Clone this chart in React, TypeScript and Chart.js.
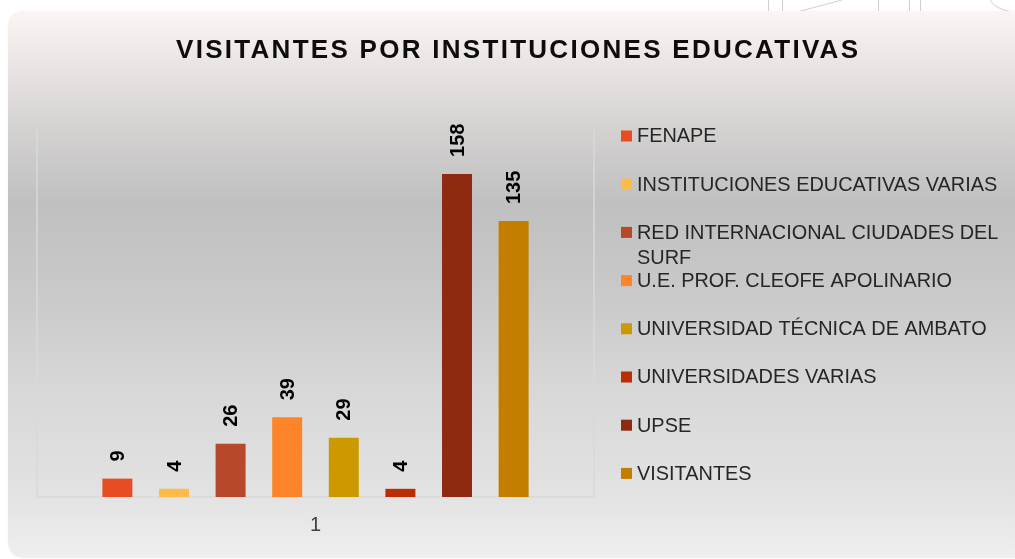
import React, { useEffect, useRef } from "react";
import { Chart, registerables } from "chart.js";

Chart.register(...registerables);

const categories: string[] = ["1"];
const seriesNames: string[] = [
  "FENAPE",
  "INSTITUCIONES EDUCATIVAS VARIAS",
  "RED INTERNACIONAL CIUDADES DEL SURF",
  "U.E. PROF. CLEOFE APOLINARIO",
  "UNIVERSIDAD TÉCNICA DE AMBATO",
  "UNIVERSIDADES VARIAS",
  "UPSE",
  "VISITANTES",
];
const seriesValues: number[] = [9, 4, 26, 39, 29, 4, 158, 135];
const seriesColors: string[] = [
  "#E84C22",
  "#FFBB48",
  "#B7492A",
  "#FE8429",
  "#CC9A00",
  "#BA2D05",
  "#8E2A10",
  "#C57D00",
];
const titleText = "VISITANTES POR INSTITUCIONES EDUCATIVAS";
const yMin = 0;
const yMax = 180;

const W = 1015;
const H = 559;

function roundRectPath(ctx: CanvasRenderingContext2D, x: number, y: number, w: number, h: number, r: number) {
  ctx.beginPath();
  ctx.moveTo(x + r, y);
  ctx.lineTo(x + w - r, y);
  ctx.quadraticCurveTo(x + w, y, x + w, y + r);
  ctx.lineTo(x + w, y + h - r);
  ctx.quadraticCurveTo(x + w, y + h, x + w - r, y + h);
  ctx.lineTo(x + r, y + h);
  ctx.quadraticCurveTo(x, y + h, x, y + h - r);
  ctx.lineTo(x, y + r);
  ctx.quadraticCurveTo(x, y, x + r, y);
  ctx.closePath();
}

function wrapText(ctx: CanvasRenderingContext2D, text: string, maxW: number): string[] {
  const words = text.split(" ");
  const lines: string[] = [];
  let cur = "";
  for (const w of words) {
    const test = cur ? cur + " " + w : w;
    if (ctx.measureText(test).width > maxW && cur) {
      lines.push(cur);
      cur = w;
    } else {
      cur = test;
    }
  }
  if (cur) lines.push(cur);
  return lines;
}

const decorPlugin = {
  id: "decor",
  beforeDraw(chart: any) {
    const ctx: CanvasRenderingContext2D = chart.ctx;
    ctx.save();
    ctx.fillStyle = "#ffffff";
    ctx.fillRect(0, 0, W, H);
    ctx.strokeStyle = "#cfcfcf";
    ctx.lineWidth = 1;
    ctx.beginPath();
    [768, 782, 878, 909, 920].forEach((x) => {
      ctx.moveTo(x + 0.5, 0);
      ctx.lineTo(x + 0.5, 12);
    });
    ctx.moveTo(797, 12);
    ctx.lineTo(842, 0);
    ctx.moveTo(990, 0);
    ctx.quadraticCurveTo(995, 9, 1012, 12);
    ctx.stroke();

    const g = ctx.createLinearGradient(0, 11, 0, 558);
    g.addColorStop(0, "#fbf5f3");
    g.addColorStop(0.12, "#e6e1e0");
    g.addColorStop(0.2, "#d6d4d3");
    g.addColorStop(0.35, "#c0c0c0");
    g.addColorStop(0.5, "#c8c8c8");
    g.addColorStop(0.7, "#d8d8d8");
    g.addColorStop(0.88, "#e2e2e2");
    g.addColorStop(1, "#efefef");
    ctx.shadowColor = "rgba(0,0,0,0.06)";
    ctx.shadowBlur = 2;
    roundRectPath(ctx, 8, 11, W + 30, 547, 18);
    ctx.fillStyle = g;
    ctx.fill();
    ctx.restore();
  },
  beforeDatasetsDraw(chart: any) {
    const ctx: CanvasRenderingContext2D = chart.ctx;
    const a = chart.chartArea;
    ctx.save();
    ctx.strokeStyle = "#d9d9d9";
    ctx.lineWidth = 1.5;
    ctx.beginPath();
    ctx.moveTo(a.left, a.top);
    ctx.lineTo(a.left, a.bottom);
    ctx.lineTo(a.right, a.bottom);
    ctx.lineTo(a.right, a.top);
    ctx.stroke();
    ctx.restore();
  },
  afterDatasetsDraw(chart: any) {
    const ctx: CanvasRenderingContext2D = chart.ctx;
    ctx.save();
    // data labels
    ctx.fillStyle = "#000000";
    ctx.font = "bold 20px 'Liberation Sans', Arial, sans-serif";
    ctx.textAlign = "left";
    ctx.textBaseline = "middle";
    chart.data.datasets.forEach((ds: any, i: number) => {
      const meta = chart.getDatasetMeta(i);
      meta.data.forEach((bar: any, j: number) => {
        const v = ds.data[j];
        ctx.save();
        ctx.translate(bar.x + 1, bar.y - 17);
        ctx.rotate(-Math.PI / 2);
        ctx.fillText(String(v), 0, 0);
        ctx.restore();
      });
    });

    // category label
    const xs = chart.scales.x;
    ctx.font = "20px 'Liberation Sans', Arial, sans-serif";
    ctx.fillStyle = "#404040";
    ctx.textAlign = "center";
    ctx.textBaseline = "middle";
    categories.forEach((c, i) => {
      ctx.fillText(c, xs.getPixelForValue(i), 525);
    });

    // title
    ctx.font = "bold 26px 'Liberation Sans Narrow', 'Liberation Sans', Arial, sans-serif";
    ctx.fillStyle = "#0d0d0d";
    const n = titleText.length;
    (ctx as any).letterSpacing = "0px";
    const base = ctx.measureText(titleText).width;
    const spacing = (682 - base) / (n - 1);
    (ctx as any).letterSpacing = spacing + "px";
    ctx.textAlign = "left";
    ctx.textBaseline = "alphabetic";
    ctx.fillText(titleText, 176, 58);
    (ctx as any).letterSpacing = "0px";

    // legend
    let fs = 20;
    ctx.font = `${fs}px 'Liberation Sans', Arial, sans-serif`;
    const mw = ctx.measureText(seriesNames[1]).width;
    fs = Math.round(((20 * 361) / mw) * 10) / 10;
    ctx.font = `${fs}px 'Liberation Sans', Arial, sans-serif`;
    ctx.textAlign = "left";
    ctx.textBaseline = "middle";
    chart.data.datasets.forEach((ds: any, i: number) => {
      const cy = 136 + i * 48.2;
      ctx.fillStyle = ds.backgroundColor;
      ctx.fillRect(621, cy - 5.5, 11, 11);
      ctx.fillStyle = "#262626";
      const lines = wrapText(ctx, ds.label, 375);
      lines.forEach((ln, k) => {
        ctx.fillText(ln, 637, cy + 1 + k * 25);
      });
    });
    ctx.restore();
  },
};

export default function App() {
  const ref = useRef<HTMLCanvasElement | null>(null);
  useEffect(() => {
    if (!ref.current) return;
    const chart = new Chart(ref.current, {
      type: "bar",
      data: {
        labels: categories,
        datasets: seriesNames.map((name, i) => ({
          label: name,
          data: [seriesValues[i]],
          backgroundColor: seriesColors[i],
          borderWidth: 0,
          categoryPercentage: 0.813,
          barPercentage: 0.53,
        })),
      },
      options: {
        responsive: false,
        animation: false,
        devicePixelRatio: 1,
        layout: { padding: { left: 37, top: 129, right: W - 594, bottom: H - 497 } },
        plugins: {
          legend: { display: false },
          title: { display: false },
          tooltip: { enabled: false },
        },
        scales: {
          x: { display: false, offset: true },
          y: { display: false, min: yMin, max: yMax },
        },
      },
      plugins: [decorPlugin],
    });
    return () => chart.destroy();
  }, []);
  return (
    <div style={{ position: "fixed", left: 0, top: 0, width: W, height: H, background: "#fff" }}>
      <canvas ref={ref} width={W} height={H} style={{ display: "block", width: W, height: H }} />
    </div>
  );
}
